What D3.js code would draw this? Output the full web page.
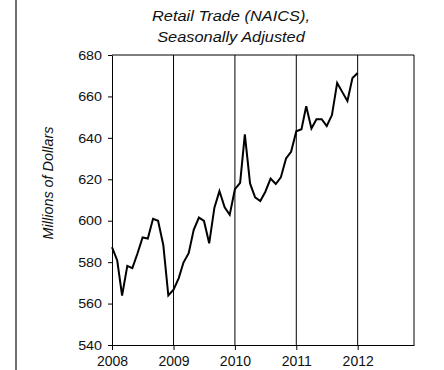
<!DOCTYPE html>
<html>
<head>
<meta charset="utf-8">
<script src="https://cdn.jsdelivr.net/npm/d3@7"></script>
<style>
  html, body { margin: 0; padding: 0; background: #fff; }
  svg { display: block; font-family: "Liberation Sans", Arial, sans-serif; }
</style>
</head>
<body>
<svg id="chart" width="444" height="370"></svg>
<script>
// Monthly retail sales, seasonally adjusted, Jan 2008 - Jan 2012
const startMonth = "2008-01";
const endMonth = "2012-12";
const sales = [
  587.2, 580.8, 563.9, 578.2, 577.1, 584.3, 591.9, 591.4, 600.9, 600.0, 588.3, 563.9,
  566.7, 572.3, 579.8, 584.3, 595.6, 601.5, 599.9, 589.1, 606.3, 614.3, 606.5, 602.9,
  615.2, 618.3, 641.7, 618.0, 611.3, 609.5, 614.0, 620.3, 617.7, 620.9, 630.1, 633.3,
  643.2, 644.2, 655.3, 644.5, 649.0, 649.0, 645.7, 651.0, 666.5, 662.2, 657.8, 668.9,
  671.3
];
const yearTicks = ["2008", "2009", "2010", "2011", "2012"];
const valueTicks = [540, 560, 580, 600, 620, 640, 660, 680];
const titleLines = ["Retail Trade (NAICS),", "Seasonally Adjusted"];
const yTitle = "Millions of Dollars";

const parseMonth = d3.utcParse("%Y-%m");
const parseYear = d3.utcParse("%Y");
const months = sales.map((_, i) => d3.utcMonth.offset(parseMonth(startMonth), i));
const series = months.map((m, i) => ({ date: m, value: sales[i] }));

const plot = { left: 112, right: 414, top: 55, bottom: 345 };

const x = d3.scaleUtc()
  .domain([parseMonth(startMonth), parseMonth(endMonth)])
  .range([plot.left, plot.right]);
const y = d3.scaleLinear()
  .domain([d3.min(valueTicks), d3.max(valueTicks)])
  .range([plot.bottom, plot.top]);

const svg = d3.select("#chart");

// thin rule down the left side of the page
svg.append("line")
  .attr("x1", 16).attr("x2", 16).attr("y1", 0).attr("y2", 370)
  .attr("stroke", "#222").attr("stroke-width", 1.3);

// title
svg.append("g").selectAll("text")
  .data(titleLines)
  .join("text")
  .attr("transform", (d, i) => `translate(231,${20.5 + i * 21}) scale(1.17,1)`)
  .attr("text-anchor", "middle")
  .attr("font-size", 14)
  .attr("font-style", "italic")
  .attr("fill", "#111")
  .text(d => d);

// yearly vertical grid lines
const yearDates = yearTicks.map(parseYear);
svg.append("g").selectAll("line")
  .data(yearDates.slice(1))
  .join("line")
  .attr("x1", d => x(d)).attr("x2", d => x(d))
  .attr("y1", plot.top).attr("y2", plot.bottom)
  .attr("stroke", "#000").attr("stroke-width", 1);

// plot frame: top and right edges
svg.append("path")
  .attr("d", `M${plot.left},${plot.top}H${plot.right}V${plot.bottom}`)
  .attr("fill", "none").attr("stroke", "#000").attr("stroke-width", 1);

// y axis
const yAxis = svg.append("g")
  .attr("transform", `translate(${plot.left},0)`)
  .call(d3.axisLeft(y).tickValues(valueTicks).tickSize(4).tickPadding(6).tickSizeOuter(0));
yAxis.selectAll("text")
  .attr("font-size", 13)
  .attr("fill", "#111")
  .attr("font-family", "'Liberation Sans', Arial, sans-serif")
  .attr("transform", "scale(1.1,1)")
  .attr("x", -10 / 1.1);
yAxis.select(".domain").attr("stroke", "#000");

// x axis
const xAxis = svg.append("g")
  .attr("transform", `translate(0,${plot.bottom})`)
  .call(d3.axisBottom(x).tickValues(yearDates).tickFormat((d, i) => yearTicks[i])
    .tickSize(5).tickPadding(6).tickSizeOuter(0));
xAxis.selectAll("text")
  .attr("font-size", 14)
  .attr("fill", "#111")
  .attr("font-family", "'Liberation Sans', Arial, sans-serif");
xAxis.select(".domain").attr("stroke", "#000");

// y axis title
svg.append("text")
  .attr("transform", "translate(53,183) rotate(-90)")
  .attr("text-anchor", "middle")
  .attr("font-size", 14.4)
  .attr("font-style", "italic")
  .attr("fill", "#111")
  .text(yTitle);

// sales line
svg.append("path")
  .datum(series)
  .attr("d", d3.line().x(d => x(d.date)).y(d => y(d.value)))
  .attr("fill", "none")
  .attr("stroke", "#000")
  .attr("stroke-width", 2)
  .attr("stroke-linejoin", "miter");
</script>
</body>
</html>
